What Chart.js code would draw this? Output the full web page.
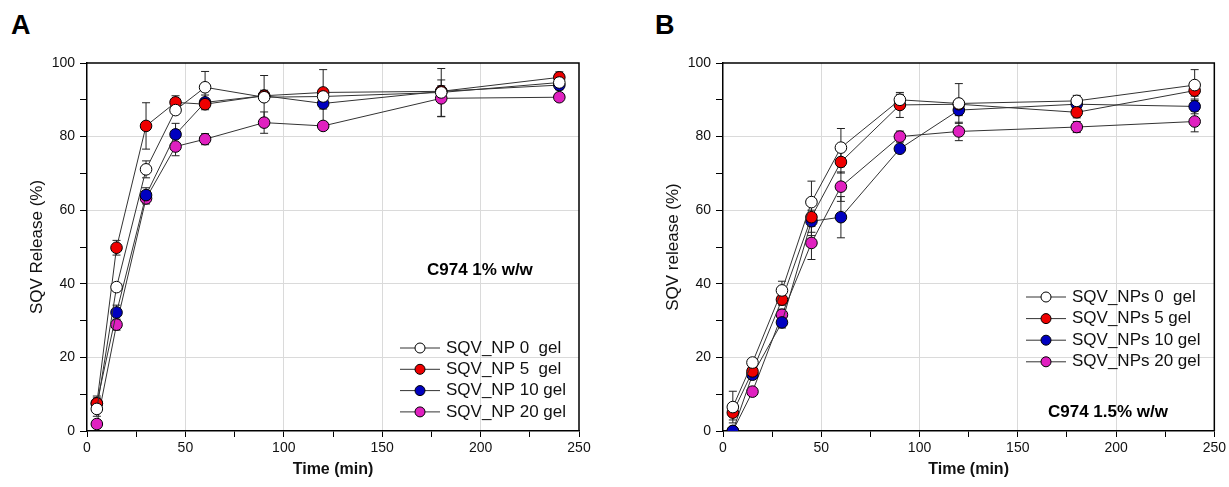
<!DOCTYPE html>
<html>
<head>
<meta charset="utf-8">
<script src="https://cdn.jsdelivr.net/npm/chart.js@4.4.0/dist/chart.umd.min.js"></script>
<style>
  body { margin: 0; background: #fff; width: 1229px; height: 487px; position: relative; overflow: hidden; font-family: "Liberation Sans", Arial, sans-serif; }
  .panel { position: absolute; top: 0; height: 487px; }
  #wrapA { left: 0; width: 614px; }
  #wrapB { left: 614px; width: 615px; }
  .tag { position: absolute; top: 10px; font: bold 27px "Liberation Sans", Arial, sans-serif; color: #000; }
</style>
</head>
<body>
<div class="tag" style="left:11px">A</div>
<div class="tag" style="left:655px">B</div>
<div class="panel" id="wrapA"><canvas id="chartA"></canvas></div>
<div class="panel" id="wrapB"><canvas id="chartB"></canvas></div>
<script>
// sampling times (min)
var times = [5, 15, 30, 45, 60, 90, 120, 180, 240];

var labelsA = ['SQV_NP 0  gel', 'SQV_NP 5  gel', 'SQV_NP 10 gel', 'SQV_NP 20 gel'];
var labelsB = ['SQV_NPs 0  gel', 'SQV_NPs 5 gel', 'SQV_NPs 10 gel', 'SQV_NPs 20 gel'];
var colors = ['#ffffff', '#ee0000', '#0000c0', '#e020c0'];

// panel A - C974 1% w/w
var a0 = [6.0, 39.1, 71.1, 87.2, 93.4, 90.7, 90.9, 92.0, 94.7];
var a0Err = [2, 1, 2.3, 1, 4.3, 5.9, 7.3, 6.5, 2];
var a5 = [7.5, 49.8, 82.9, 89.3, 88.8, 91.1, 92.0, 92.3, 96.1];
var a5Err = [2, 2, 6.3, 1.8, 1, 1, 1, 1, 1.5];
var a10 = [7.5, 32.2, 64.1, 80.6, 89.3, 91.1, 89.0, 92.3, 94.0];
var a10Err = [1.5, 2, 2, 3, 2, 1.5, 1.5, 1.5, 1];
var a20 = [1.9, 28.9, 63.2, 77.3, 79.3, 83.8, 82.9, 90.4, 90.7];
var a20Err = [1, 1.5, 1.5, 2.5, 1.5, 2.9, 1, 5, 1];

// panel B - C974 1.5% w/w
var b0 = [6.5, 18.6, 38.2, 62.2, 77.0, 90.0, 89.0, 89.7, 94.0];
var b0Err = [4.3, 1, 2.5, 5.7, 5.2, 1.5, 5.4, 1.5, 4.2];
var b5 = [5.0, 16.2, 35.7, 58.1, 73.1, 88.6, 88.8, 86.6, 92.5];
var b5Err = [2, 1.5, 1.5, 5, 3, 3.4, 1, 1.5, 1.5];
var b10 = [0, 15.3, 29.5, 57.0, 58.1, 76.7, 87.2, 88.8, 88.2];
var b10Err = [0, 1, 1.5, 3, 5.6, 1, 1.5, 1, 2];
var b20 = [0, 10.7, 31.6, 51.1, 66.4, 80.0, 81.4, 82.6, 84.1];
var b20Err = [0, 1, 1.5, 4.5, 4, 1.5, 2.5, 1.5, 2.8];

var FONT = '"Liberation Sans", Arial, sans-serif';

function series(label, values, errs, color) {
  return {
    label: label,
    data: times.map(function (t, i) { return { x: t, y: values[i] }; }),
    errors: errs,
    borderColor: '#333',
    borderWidth: 1,
    backgroundColor: color,
    pointBackgroundColor: color,
    pointBorderColor: '#000',
    pointBorderWidth: 1,
    pointRadius: 5.8,
    tension: 0,
    fill: false
  };
}

// vertical error bars with caps, drawn under the markers
var errorBars = {
  id: 'errorBars',
  beforeDatasetsDraw: function (chart) {
    var ctx = chart.ctx, xs = chart.scales.x, ys = chart.scales.y;
    ctx.save();
    ctx.strokeStyle = '#222';
    ctx.lineWidth = 1;
    chart.data.datasets.forEach(function (ds) {
      ds.data.forEach(function (p, i) {
        var e = ds.errors[i];
        if (!e) return;
        var px = xs.getPixelForValue(p.x);
        var top = ys.getPixelForValue(p.y + e);
        var bot = ys.getPixelForValue(Math.max(0, p.y - e));
        ctx.beginPath();
        ctx.moveTo(px, top); ctx.lineTo(px, bot);
        ctx.moveTo(px - 4, top); ctx.lineTo(px + 4, top);
        ctx.moveTo(px - 4, bot); ctx.lineTo(px + 4, bot);
        ctx.stroke();
      });
    });
    ctx.restore();
  }
};

// top and right frame lines
var frame = {
  id: 'frame',
  beforeDatasetsDraw: function (chart) {
    var a = chart.chartArea, ctx = chart.ctx;
    ctx.save();
    ctx.strokeStyle = '#000';
    ctx.lineWidth = 1.5;
    ctx.beginPath();
    ctx.moveTo(a.left, a.top); ctx.lineTo(a.right, a.top); ctx.lineTo(a.right, a.bottom);
    ctx.stroke();
    ctx.restore();
  }
};

var sqvLegend = {
  id: 'sqvLegend',
  afterDraw: function (chart, args, opts) {
    var ctx = chart.ctx;
    ctx.save();
    chart.data.datasets.forEach(function (ds, i) {
      var y = opts.y + i * opts.step;
      ctx.strokeStyle = '#333';
      ctx.lineWidth = 1;
      ctx.beginPath(); ctx.moveTo(opts.x, y); ctx.lineTo(opts.x + 40, y); ctx.stroke();
      ctx.beginPath(); ctx.arc(opts.x + 20, y, 5, 0, Math.PI * 2);
      ctx.fillStyle = ds.pointBackgroundColor; ctx.fill();
      ctx.strokeStyle = '#000'; ctx.stroke();
      ctx.fillStyle = '#111';
      ctx.font = '17px ' + FONT;
      ctx.textBaseline = 'middle';
      ctx.fillText(ds.label, opts.x + 46, y);
    });
    ctx.restore();
  }
};

var sqvNote = {
  id: 'sqvNote',
  afterDraw: function (chart, args, opts) {
    var ctx = chart.ctx;
    ctx.save();
    ctx.fillStyle = '#000';
    ctx.font = 'bold 17px ' + FONT;
    ctx.textBaseline = 'middle';
    ctx.fillText(opts.text, opts.x, opts.y);
    ctx.restore();
  }
};

function makeChart(id, datasets, yTitle, padLeft, padRight, legendPos, note) {
  return new Chart(document.getElementById(id), {
    type: 'line',
    data: { datasets: datasets },
    options: {
      responsive: true,
      maintainAspectRatio: false,
      animation: false,
      layout: { padding: { left: padLeft, right: padRight, top: 63, bottom: 0 } },
      plugins: {
        legend: { display: false },
        tooltip: { enabled: false },
        sqvLegend: legendPos,
        sqvNote: note
      },
      scales: {
        x: {
          type: 'linear',
          min: 0,
          max: 250,
          afterFit: function (s) { s.height = 56; },
          ticks: {
            stepSize: 25, autoSkip: false, maxRotation: 0, padding: 3,
            color: '#111', font: { family: FONT, size: 14 },
            callback: function (v) { return v % 50 === 0 ? v : ''; }
          },
          grid: {
            color: function (c) { return c.tick && c.tick.value % 50 === 0 && c.tick.value > 0 && c.tick.value < 250 ? '#dadada' : 'transparent'; },
            tickColor: '#000', tickLength: 6
          },
          border: { color: '#000', width: 1.5 },
          title: { display: true, text: 'Time (min)', color: '#111', font: { family: FONT, size: 16, weight: 'bold' }, padding: { top: 0, bottom: 8 } }
        },
        y: {
          min: 0,
          max: 100,
          afterFit: function (s) { s.width = 87; },
          ticks: {
            stepSize: 10, autoSkip: false, padding: 5,
            color: '#111', font: { family: FONT, size: 14 },
            callback: function (v) { return v % 20 === 0 ? v : ''; }
          },
          grid: {
            color: function (c) { return c.tick && c.tick.value % 20 === 0 && c.tick.value > 0 && c.tick.value < 100 ? '#dadada' : 'transparent'; },
            tickColor: '#000', tickLength: 7
          },
          border: { color: '#000', width: 1.5 },
          title: { display: true, text: yTitle, color: '#111', font: { family: FONT, size: 17 }, padding: { top: 27, bottom: 0 } }
        }
      }
    },
    plugins: [frame, errorBars, sqvLegend, sqvNote]
  });
}

makeChart('chartA', [
  series(labelsA[0], a0, a0Err, colors[0]),
  series(labelsA[1], a5, a5Err, colors[1]),
  series(labelsA[2], a10, a10Err, colors[2]),
  series(labelsA[3], a20, a20Err, colors[3])
], 'SQV Release (%)', 0, 35, { x: 400, y: 348, step: 21.3 }, { text: 'C974 1% w/w', x: 427, y: 270 });

makeChart('chartB', [
  series(labelsB[0], b0, b0Err, colors[0]),
  series(labelsB[1], b5, b5Err, colors[1]),
  series(labelsB[2], b10, b10Err, colors[2]),
  series(labelsB[3], b20, b20Err, colors[3])
], 'SQV release (%)', 22, 12, { x: 412, y: 297, step: 21.6 }, { text: 'C974 1.5% w/w', x: 434, y: 412 });
</script>
</body>
</html>
